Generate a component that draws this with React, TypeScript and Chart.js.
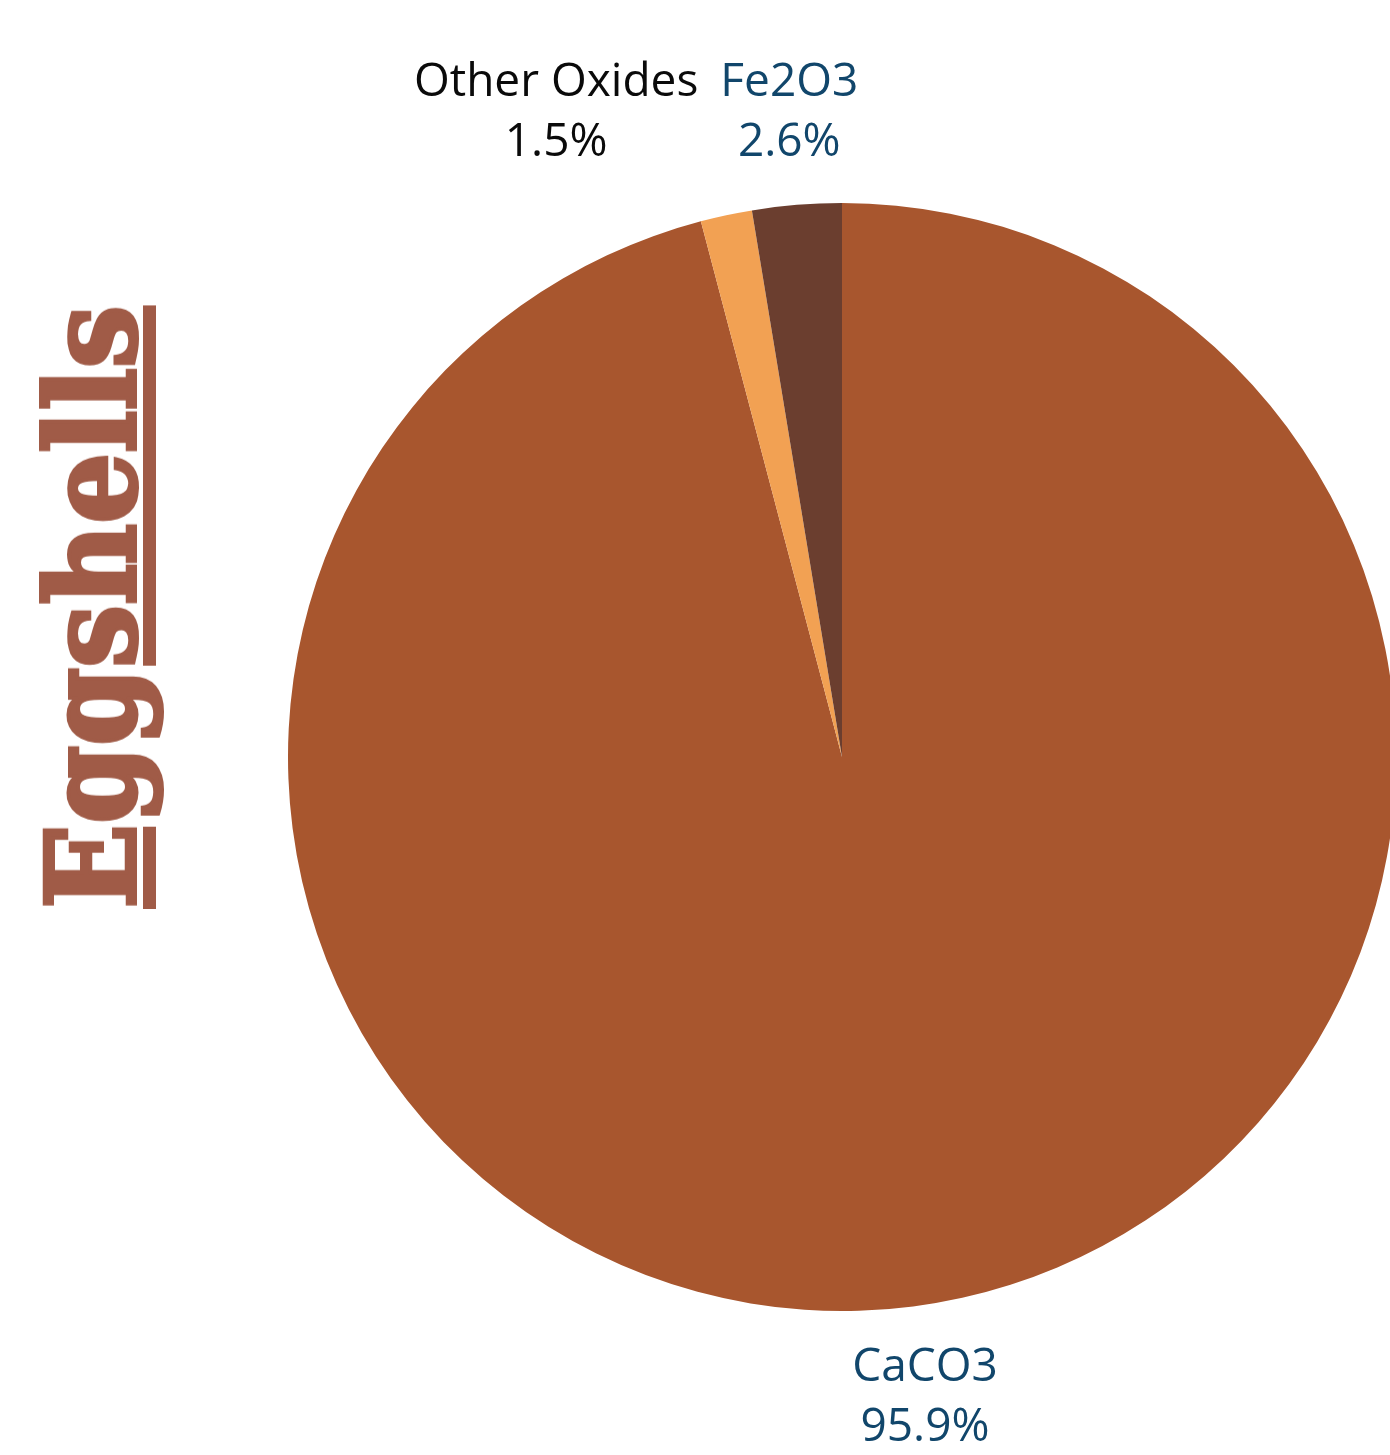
import React, { useEffect, useRef } from "react";
import { Chart, registerables } from "chart.js";

Chart.register(...registerables);

const categories = ["CaCO3", "Other Oxides", "Fe2O3"];
const values = [95.9, 1.5, 2.6];
const percentLabels = ["95.9%", "1.5%", "2.6%"];
const sliceColors = ["#A8562E", "#F2A153", "#6B3E2F"];
const labelColors = ["#11466B", "#0A0A0A", "#11466B"];
const titleText = "Eggshells";

const W = 1390;
const H = 1455;
const LABEL_FONT = '500 46px "Open Sans"';
const LINE_H = 60;
const LABEL_OFFSET = 92;

const labelPlugin = {
  id: "pieLabels",
  afterDraw(chart: any) {
    const ctx = chart.ctx;
    const meta = chart.getDatasetMeta(0);
    ctx.save();
    ctx.font = LABEL_FONT;
    ctx.textAlign = "center";
    ctx.textBaseline = "middle";
    const boxes: any[] = [];
    meta.data.forEach((arc: any, i: number) => {
      const p = arc.getProps(["x", "y", "startAngle", "endAngle", "outerRadius"], true);
      const mid = (p.startAngle + p.endAngle) / 2;
      const r = p.outerRadius + LABEL_OFFSET;
      const cx = p.x + Math.cos(mid) * r;
      const cy = p.y + Math.sin(mid) * r;
      const w = Math.max(ctx.measureText(categories[i]).width, ctx.measureText(percentLabels[i]).width);
      boxes.push({ i, cx, cy, w });
    });
    // simple collision avoidance: move overlapping labels left of their neighbour
    for (let a = 0; a < boxes.length; a++) {
      for (let b = 0; b < boxes.length; b++) {
        if (a === b) continue;
        const A = boxes[a];
        const B = boxes[b];
        if (A.i === 1 && Math.abs(A.cy - B.cy) < LINE_H * 2 && Math.abs(A.cx - B.cx) < (A.w + B.w) / 2 + 22) {
          A.cy = B.cy;
          A.cx = B.cx - B.w / 2 - 22 - A.w / 2;
        }
      }
    }
    boxes.forEach((bx) => {
      ctx.fillStyle = labelColors[bx.i];
      ctx.fillText(categories[bx.i], bx.cx, bx.cy - LINE_H / 2);
      ctx.fillText(percentLabels[bx.i], bx.cx, bx.cy + LINE_H / 2);
    });
    ctx.restore();
  },
};

export default function App() {
  const ref = useRef<HTMLCanvasElement | null>(null);
  useEffect(() => {
    if (!ref.current) return;
    const chart = new Chart(ref.current, {
      type: "pie",
      data: {
        labels: categories,
        datasets: [
          {
            data: values,
            backgroundColor: sliceColors,
            borderWidth: 0,
            radius: 554,
            clip: false,
          } as any,
        ],
      },
      options: {
        animation: false,
        responsive: false,
        devicePixelRatio: 1,
        layout: { padding: { left: 294, right: 0, top: 59, bottom: 0 } },
        plugins: {
          legend: { display: false },
          tooltip: { enabled: false },
          title: { display: false },
        },
      },
      plugins: [labelPlugin],
    });
    return () => chart.destroy();
  }, []);

  return (
    <div style={{ position: "absolute", left: 0, top: 0, width: W, height: H, overflow: "hidden", background: "#fff" }}>
      <canvas ref={ref} width={W} height={H} style={{ position: "absolute", left: 0, top: 0, width: W, height: H }} />
      <div
        style={{
          position: "absolute",
          left: 92,
          top: 607,
          transform: "translate(-50%, -50%) rotate(-90deg)",
          whiteSpace: "nowrap",
          fontFamily: '"DejaVu Serif Condensed", "DejaVu Serif", serif',
          fontWeight: 700,
          fontSize: 124,
          lineHeight: 1,
          color: "#A05B47",
          WebkitTextStroke: "4px #A05B47",
          textDecoration: "underline",
          textDecorationThickness: 13,
          textUnderlineOffset: 8,
        }}
      >
        {titleText}
      </div>
    </div>
  );
}
